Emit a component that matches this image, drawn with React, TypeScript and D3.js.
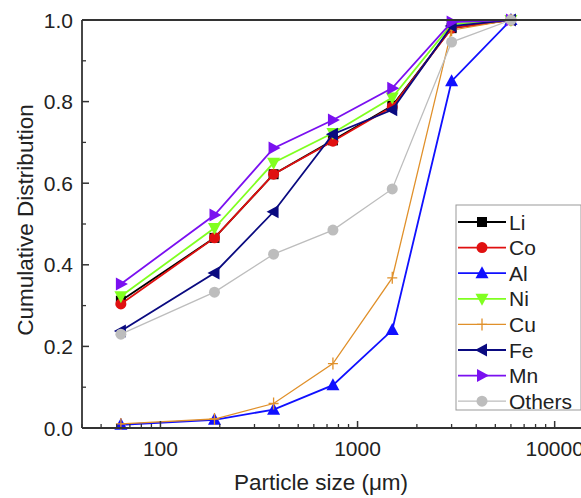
import React from "react";
import * as d3 from "d3";

const sizes = [63, 188, 375, 750, 1500, 3000, 6000];
const seriesNames = ["Li", "Co", "Al", "Ni", "Cu", "Fe", "Mn", "Others"];
const liValues = [0.312, 0.466, 0.622, 0.705, 0.79, 0.98, 1.0];
const coValues = [0.304, 0.466, 0.622, 0.703, 0.787, 0.98, 1.0];
const alValues = [0.008, 0.02, 0.045, 0.105, 0.24, 0.85, 1.0];
const niValues = [0.323, 0.49, 0.65, 0.723, 0.81, 0.99, 1.0];
const cuValues = [0.01, 0.022, 0.06, 0.158, 0.368, 0.975, 1.0];
const feValues = [0.238, 0.38, 0.53, 0.72, 0.78, 0.985, 1.0];
const mnValues = [0.353, 0.522, 0.686, 0.755, 0.833, 0.995, 1.0];
const othersValues = [0.23, 0.333, 0.426, 0.485, 0.586, 0.946, 1.0];
const yTicks = [0.0, 0.2, 0.4, 0.6, 0.8, 1.0];
const xTickLabels = [100, 1000, 10000];

const seriesColors = ["#000000", "#e01010", "#1010ff", "#80ff20", "#e0902a", "#0a0a80", "#7a10f0", "#bdbdbd"];
const seriesShapes = ["square", "circle", "up", "down", "plus", "left", "right", "circle"];
const seriesWidths = [1.8, 1.8, 1.8, 1.8, 1.3, 1.8, 1.8, 1.3];
const seriesValues = [liValues, coValues, alValues, niValues, cuValues, feValues, mnValues, othersValues];

const W = 581, H = 498;
const x = d3.scaleLog().domain([40, 20000]).range([82, 614]);
const y = d3.scaleLinear().domain([0, 1]).range([428, 20]);
const FONT = "Liberation Sans, Arial, sans-serif";

function Marker({ shape, cx, cy, color }: { shape: string; cx: number; cy: number; color: string }) {
  const s = 6;
  if (shape === "square") return <rect x={cx - 5} y={cy - 5} width={10} height={10} fill={color} />;
  if (shape === "circle") return <circle cx={cx} cy={cy} r={5.5} fill={color} />;
  if (shape === "plus")
    return (
      <path d={`M${cx - 5},${cy}H${cx + 5}M${cx},${cy - 6}V${cy + 6}`} stroke={color} strokeWidth={1.3} fill="none" />
    );
  let pts: [number, number][] = [];
  if (shape === "up") pts = [[cx, cy - s - 1], [cx - s - 0.5, cy + s - 1], [cx + s + 0.5, cy + s - 1]];
  if (shape === "down") pts = [[cx, cy + s + 1], [cx - s - 0.5, cy - s + 1], [cx + s + 0.5, cy - s + 1]];
  if (shape === "left") pts = [[cx - s - 1, cy], [cx + s - 1, cy - s - 0.5], [cx + s - 1, cy + s + 0.5]];
  if (shape === "right") pts = [[cx + s + 1, cy], [cx - s + 1, cy - s - 0.5], [cx - s + 1, cy + s + 0.5]];
  return <polygon points={pts.map((p) => p.join(",")).join(" ")} fill={color} />;
}

export default function App() {
  const line = d3
    .line<number>()
    .x((_, i) => x(sizes[i]))
    .y((d) => y(d));
  const minorX: number[] = [];
  for (let dec = 10; dec <= 10000; dec *= 10) {
    for (let k = 1; k <= 9; k++) {
      const v = dec * k;
      if (v >= 40 && v <= 20000 && k !== 1) minorX.push(v);
    }
  }
  const minorY = d3.range(0.1, 1.0, 0.2);
  const legendX = 456, legendY = 205, legendW = 125, legendH = 205;
  return (
    <svg width={W} height={H} style={{ position: "absolute", left: 0, top: 0, background: "#fff" }}>
      <rect width={W} height={H} fill="#fff" />
      {/* data */}
      {seriesValues.map((vals, si) => (
        <g key={seriesNames[si]}>
          <path d={line(vals) || ""} fill="none" stroke={seriesColors[si]} strokeWidth={seriesWidths[si]} />
          {vals.map((v, i) => (
            <Marker key={i} shape={seriesShapes[si]} cx={x(sizes[i])} cy={y(v)} color={seriesColors[si]} />
          ))}
        </g>
      ))}
      {/* axes */}
      <line x1={82} x2={W} y1={20} y2={20} stroke="#333" strokeWidth={1.8} />
      <line x1={82} x2={82} y1={20} y2={428} stroke="#333" strokeWidth={1.8} />
      <line x1={82} x2={W} y1={428} y2={428} stroke="#333" strokeWidth={1.8} />
      {yTicks.map((t) => (
        <g key={t}>
          <line x1={82} x2={89} y1={y(t)} y2={y(t)} stroke="#333" strokeWidth={1.5} />
          <text x={73} y={y(t) + 7.5} textAnchor="end" fontFamily={FONT} fontSize={21} fill="#222">
            {t.toFixed(1)}
          </text>
        </g>
      ))}
      {minorY.map((t) => (
        <line key={t} x1={82} x2={86} y1={y(t)} y2={y(t)} stroke="#333" strokeWidth={1.3} />
      ))}
      {xTickLabels.map((t) => (
        <g key={t}>
          <line x1={x(t)} x2={x(t)} y1={428} y2={421} stroke="#333" strokeWidth={1.5} />
          <text x={x(t)} y={456} textAnchor="middle" fontFamily={FONT} fontSize={21} fill="#222">
            {t}
          </text>
        </g>
      ))}
      {minorX.map((t) => (
        <line key={t} x1={x(t)} x2={x(t)} y1={428} y2={424} stroke="#333" strokeWidth={1.3} />
      ))}
      <text x={321} y={490} textAnchor="middle" fontFamily={FONT} fontSize={22.5} fill="#222">
        Particle size (μm)
      </text>
      <text
        transform={`translate(33,220) rotate(-90)`}
        textAnchor="middle"
        fontFamily={FONT}
        fontSize={22.5}
        fill="#222"
      >
        Cumulative Distribution
      </text>
      {/* legend */}
      <rect x={legendX} y={legendY} width={legendW} height={legendH} fill="#fff" stroke="#999" strokeWidth={1} />
      {seriesNames.map((name, si) => {
        const ly = 222 + si * 25.6;
        return (
          <g key={name}>
            <line x1={458} x2={506} y1={ly} y2={ly} stroke={seriesColors[si]} strokeWidth={seriesWidths[si]} />
            <Marker shape={seriesShapes[si]} cx={482} cy={ly} color={seriesColors[si]} />
            <text x={509} y={ly + 7.5} fontFamily={FONT} fontSize={21} fill="#222">
              {name}
            </text>
          </g>
        );
      })}
    </svg>
  );
}
